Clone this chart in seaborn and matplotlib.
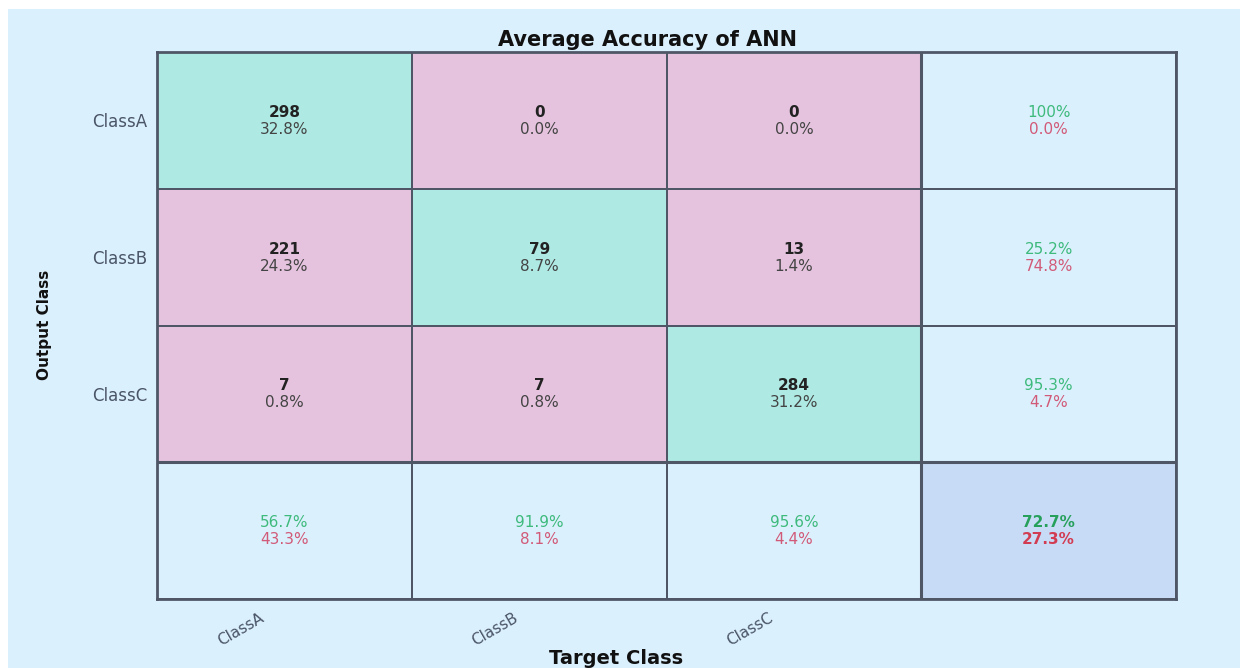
import numpy as np
import matplotlib
matplotlib.use("Agg")
import matplotlib.pyplot as plt
import matplotlib.transforms as mtrans
from matplotlib.colors import ListedColormap
from matplotlib.patches import Rectangle
import seaborn as sns

# ---- data ----
class_names = ["ClassA", "ClassB", "ClassC"]
counts = [[298, 0, 0],
          [221, 79, 13],
          [7, 7, 284]]
cell_pct = [["32.8%", "0.0%", "0.0%"],
            ["24.3%", "8.7%", "1.4%"],
            ["0.8%", "0.8%", "31.2%"]]
row_correct = ["100%", "25.2%", "95.3%"]
row_wrong = ["0.0%", "74.8%", "4.7%"]
col_correct = ["56.7%", "91.9%", "95.6%"]
col_wrong = ["43.3%", "8.1%", "4.4%"]
overall_correct = "72.7%"
overall_wrong = "27.3%"

# ---- colours ----
bg_blue = "#dbf0fd"
c_diag = "#aee9e3"
c_off = "#e5c3de"
c_total = "#c7dbf7"
line_c = "#4f5767"
tick_c = "#4a5568"
green_txt = "#3dba7c"
red_txt = "#d15a78"

sns.set_theme(style="white")
plt.rcParams["font.family"] = ["DejaVu Sans"]

W, H = 1244, 668
fig = plt.figure(figsize=(W / 100, H / 100), dpi=100, facecolor="white")
fig.patches.append(Rectangle((8 / W, 0), (1240 - 8) / W, (H - 9) / H,
                             transform=fig.transFigure, facecolor=bg_blue,
                             edgecolor="none", zorder=-10))

x0, x1, y0, y1 = 157, 1176, 52, 599
ax = fig.add_axes([x0 / W, (H - y1) / H, (x1 - x0) / W, (y1 - y0) / H])

n = len(class_names)
codes = np.full((n + 1, n + 1), 2)
for i in range(n):
    for j in range(n):
        codes[i, j] = 0 if i == j else 1
codes[n, n] = 3

sns.heatmap(codes, ax=ax, cmap=ListedColormap([c_diag, c_off, bg_blue, c_total]),
            vmin=-0.5, vmax=3.5, cbar=False, linewidths=1.1, linecolor=line_c,
            xticklabels=False, yticklabels=False)
ax.axhline(n, color=line_c, lw=2.2)
ax.axvline(n, color=line_c, lw=2.2)
for s in ax.spines.values():
    s.set_visible(True)
    s.set_color(line_c)
    s.set_linewidth(2)

up = mtrans.offset_copy(ax.transData, fig, x=0, y=8, units="dots")
dn = mtrans.offset_copy(ax.transData, fig, x=0, y=-9, units="dots")
fs = 11

for i in range(n):
    for j in range(n):
        ax.text(j + 0.5, i + 0.5, str(counts[i][j]), transform=up, ha="center", va="center",
                fontsize=fs, fontweight="bold", color="#222222")
        ax.text(j + 0.5, i + 0.5, cell_pct[i][j], transform=dn, ha="center", va="center",
                fontsize=fs, color="#444444")
    # row summary (precision)
    ax.text(n + 0.5, i + 0.5, row_correct[i], transform=up, ha="center", va="center",
            fontsize=fs, color=green_txt)
    ax.text(n + 0.5, i + 0.5, row_wrong[i], transform=dn, ha="center", va="center",
            fontsize=fs, color=red_txt)
    # column summary (recall)
    ax.text(i + 0.5, n + 0.5, col_correct[i], transform=up, ha="center", va="center",
            fontsize=fs, color=green_txt)
    ax.text(i + 0.5, n + 0.5, col_wrong[i], transform=dn, ha="center", va="center",
            fontsize=fs, color=red_txt)

ax.text(n + 0.5, n + 0.5, overall_correct, transform=up, ha="center", va="center",
        fontsize=fs, fontweight="bold", color="#27a05c")
ax.text(n + 0.5, n + 0.5, overall_wrong, transform=dn, ha="center", va="center",
        fontsize=fs, fontweight="bold", color="#d23c52")

# ticks
ax.set_yticks(np.arange(n) + 0.5)
ax.set_yticklabels(class_names, rotation=0, fontsize=12, color=tick_c)
ax.set_xticks(np.arange(n) + 0.5)
ax.set_xticklabels(class_names, rotation=30, ha="right", va="center",
                   rotation_mode="anchor", fontsize=11, color=tick_c)
ax.tick_params(axis="both", length=0)
ax.tick_params(axis="y", pad=7)
ax.tick_params(axis="x", pad=0)
shift = mtrans.ScaledTranslation(-22 / 100, -18 / 100, fig.dpi_scale_trans)
for lab in ax.get_xticklabels():
    lab.set_transform(lab.get_transform() + shift)

fig.text(647 / W, 1 - 46 / H, "Average Accuracy of ANN", ha="center", va="baseline",
         fontsize=15, fontweight="bold", color="#111111")
fig.text(616 / W, 4 / H, "Target Class", ha="center", va="baseline",
         fontsize=14, fontweight="bold", color="#111111")
fig.text(44 / W, 1 - 325 / H, "Output Class", ha="center", va="center", rotation=90,
         fontsize=11, fontweight="bold", color="#111111")

fig.savefig("out.png", dpi=100, facecolor=fig.get_facecolor())
